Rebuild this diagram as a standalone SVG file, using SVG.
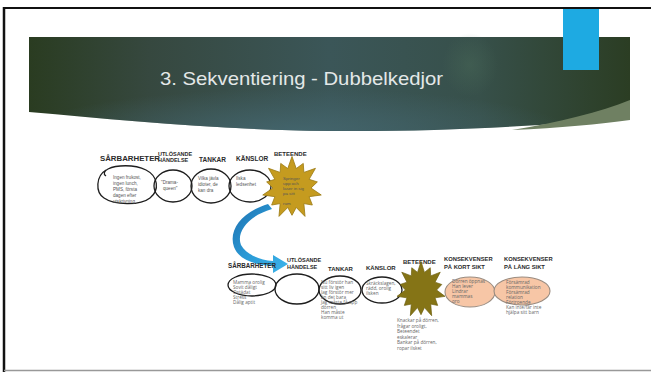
<svg xmlns="http://www.w3.org/2000/svg" xmlns:xlink="http://www.w3.org/1999/xlink" width="651" height="372" viewBox="0 0 651 372">
<style>
.h{font-family:"Liberation Sans",Arial,sans-serif;font-weight:bold;fill:#2a2a2a}
.t{font-family:"Open Sans","Liberation Sans",Arial,sans-serif;fill:#666}
.tt{font-family:"Liberation Sans",Arial,sans-serif;fill:#555}
.ell{fill:none;stroke:#1e1e1e;stroke-width:1.3}
.peach{fill:#f7c6a6;stroke:#9a8c80;stroke-width:1.1}
</style>
<defs>
<linearGradient id="band" x1="0" y1="0" x2="1" y2="0">
<stop offset="0" stop-color="#2a3c21"/>
<stop offset="0.2" stop-color="#36483f"/>
<stop offset="0.5" stop-color="#3b5658"/>
<stop offset="0.75" stop-color="#37504a"/>
<stop offset="1" stop-color="#2b3d23"/>
</linearGradient>
<radialGradient id="glow" cx="0.45" cy="1" r="0.45">
<stop offset="0" stop-color="#44666e" stop-opacity="0.9"/>
<stop offset="1" stop-color="#44666e" stop-opacity="0"/>
</radialGradient>
<radialGradient id="spot" cx="0.5" cy="0.5" r="0.5">
<stop offset="0" stop-color="#4a6a58" stop-opacity="0.45"/>
<stop offset="1" stop-color="#4a6a58" stop-opacity="0"/>
</radialGradient>
<linearGradient id="arr" x1="0" y1="0" x2="1" y2="1">
<stop offset="0" stop-color="#1e6fae"/>
<stop offset="0.5" stop-color="#2a9ad6"/>
<stop offset="1" stop-color="#3db4ea"/>
</linearGradient>
<path id="star" d="M0,-30 L4.23,-18.52 L11.28,-23.43 L11.85,-14.85 L23.45,-18.71 L17.12,-8.24 L25.35,-5.79 L19,0 L29.25,6.68 L17.12,8.24 L20.33,16.21 L11.85,14.85 L13.02,27.03 L4.23,18.52 L0,26 L-4.23,18.52 L-13.02,27.03 L-11.85,14.85 L-20.33,16.21 L-17.12,8.24 L-29.25,6.68 L-19,0 L-25.35,-5.79 L-17.12,-8.24 L-23.45,-18.71 L-11.85,-14.85 L-11.28,-23.43 L-4.23,-18.52 Z"/>
</defs>

<rect width="651" height="372" fill="#fff"/>

<g id="frame">
<line x1="4" y1="8" x2="651" y2="8" stroke="#111" stroke-width="2"/>
<line x1="4" y1="7" x2="4" y2="372" stroke="#111" stroke-width="2.5"/>
<line x1="4" y1="370.5" x2="651" y2="370.5" stroke="#999" stroke-width="1.5"/>
</g>

<g id="header">
<path d="M29,37 H630 V118 C 540,126 440,132 330,131 C 220,130 120,120 29,112 Z" fill="url(#band)"/>
<path d="M29,37 H630 V118 C 540,126 440,132 330,131 C 220,130 120,120 29,112 Z" fill="url(#glow)"/>
<ellipse cx="470" cy="65" rx="28" ry="32" fill="url(#spot)"/>
<path d="M630,100 C 600,112 560,122 512,130 C 560,128 600,124 630,120 Z" fill="#6f8062"/>
<rect x="563" y="9" width="36" height="61" fill="#1eaae2"/>
<text x="160" y="85" font-family="'Liberation Sans',Arial,sans-serif" font-size="19" fill="#e4e8e8" textLength="283" lengthAdjust="spacingAndGlyphs">3. Sekventiering - Dubbelkedjor</text>
</g>

<g id="connectors">
<path d="M268,204 C 242,212 228,230 234,247 C 239,260 255,265 273,266 L 273,273 L 288,264 L 273,255 L 273,261 C 259,260 246,254 241,245 C 236,232 248,216 272,209 Z" fill="url(#arr)"/>
</g>

<g id="top-chain">
<g id="t-sarbarheter">
<text class="h" x="100" y="161" font-size="7" textLength="60" lengthAdjust="spacingAndGlyphs">SÅRBARHETER</text>
<path class="ell" d="M106,170 C 96,176 95,192 104,198 C 114,205 140,206 150,198 C 160,190 158,176 146,170 C 134,164 116,165 108,169 C 104,171 103,174 106,176"/>
<text class="tt" font-size="4.6"><tspan x="113" y="179">Ingen frukost,</tspan><tspan x="113" y="185">ingen lunch,</tspan><tspan x="113" y="191">PMS, första</tspan><tspan x="113" y="197">dagen efter</tspan><tspan x="113" y="203">utskrivning</tspan></text>
</g>
<g id="t-utlosande">
<text class="h" x="158" y="155.5" font-size="5.5">UTLÖSANDE</text>
<text class="h" x="158" y="162" font-size="5.5">HÄNDELSE</text>
<ellipse class="ell" cx="173" cy="186" rx="19" ry="16"/>
<text class="tt" font-size="4.6"><tspan x="161" y="184">"Drama-</tspan><tspan x="163" y="190">queen"</tspan></text>
</g>
<g id="t-tankar">
<text class="h" x="199" y="162" font-size="6.5">TANKAR</text>
<ellipse class="ell" cx="211" cy="186" rx="20" ry="17"/>
<text class="tt" font-size="4.6"><tspan x="198" y="180">Vilka jävla</tspan><tspan x="198" y="186">idioter, de</tspan><tspan x="198" y="192">kan dra</tspan></text>
</g>
<g id="t-kanslor">
<text class="h" x="236" y="161" font-size="6.5">KÄNSLOR</text>
<ellipse class="ell" cx="250" cy="186" rx="21" ry="16"/>
<text class="tt" font-size="4.6"><tspan x="236" y="180">Ilska</tspan><tspan x="236" y="186">ledsenhet</tspan></text>
</g>
<g id="t-beteende">
<text class="h" x="274" y="156" font-size="6">BETEENDE</text>
<use xlink:href="#star" href="#star" transform="translate(292,188) scale(1,1.05)" fill="#c59b1f" stroke="#9c7a12" stroke-width="0.8"/>
<text class="tt" font-size="4.4" fill="#4a3d10"><tspan x="283" y="180">Springer</tspan><tspan x="283" y="185">upp och</tspan><tspan x="283" y="190">låser in sig</tspan><tspan x="283" y="195">på sitt</tspan><tspan x="283" y="205">rum</tspan></text>
</g>
</g>

<g id="bottom-chain">
<g id="b-sarbarheter">
<text class="h" x="228" y="268" font-size="6.5" textLength="48" lengthAdjust="spacingAndGlyphs">SÅRBARHETER</text>
<ellipse class="ell" cx="252" cy="285" rx="24" ry="11"/>
<text class="t" font-size="4.7"><tspan x="233" y="284">Mamma orolig</tspan><tspan x="233" y="289">Sovit dåligt</tspan><tspan x="233" y="294">Ostädat</tspan><tspan x="233" y="299">Stress</tspan><tspan x="233" y="304">Dålig aptit</tspan></text>
</g>
<g id="b-utlosande">
<text class="h" x="287" y="262" font-size="5.5">UTLÖSANDE</text>
<text class="h" x="287" y="268.5" font-size="5.5">HÄNDELSE</text>
<ellipse class="ell" cx="297" cy="289" rx="22" ry="15"/>
</g>
<g id="b-tankar">
<text class="h" x="328" y="271" font-size="6">TANKAR</text>
<ellipse class="ell" cx="340" cy="290" rx="21" ry="14"/>
<text class="t" font-size="4.7"><tspan x="321" y="284">Nu förstör han</tspan><tspan x="321" y="289">sitt liv igen</tspan><tspan x="321" y="294">Jag förstör mer</tspan><tspan x="321" y="299">än det bara</tspan><tspan x="321" y="304">Jag måste få upp</tspan><tspan x="321" y="309">dörren</tspan><tspan x="321" y="314">Han måste</tspan><tspan x="321" y="319">komma ut</tspan></text>
</g>
<g id="b-kanslor">
<text class="h" x="366" y="270" font-size="6">KÄNSLOR</text>
<ellipse class="ell" cx="382" cy="290" rx="20" ry="13"/>
<text class="t" font-size="4.7"><tspan x="366" y="285">Skräckslagen,</tspan><tspan x="366" y="290">rädd, orolig</tspan><tspan x="366" y="295">ilsken</tspan></text>
</g>
<g id="b-beteende">
<text class="h" x="403" y="264" font-size="6">BETEENDE</text>
<use xlink:href="#star" href="#star" transform="translate(421,290) scale(0.82,0.95)" fill="#857416" stroke="#6e6010" stroke-width="0.8"/>
<text class="t" font-size="4.7"><tspan x="397" y="322">Knackar på dörren,</tspan><tspan x="397" y="327.5">frågar oroligt,</tspan><tspan x="397" y="333">Beteendet</tspan><tspan x="397" y="338.5">eskalerar</tspan><tspan x="397" y="344">Bankar på dörren,</tspan><tspan x="397" y="349.5">ropar ilsket</tspan></text>
</g>
<g id="b-kort">
<text class="h" x="444" y="261" font-size="5.8">KONSEKVENSER</text>
<text class="h" x="444" y="268.5" font-size="5.8">PÅ KORT SIKT</text>
<ellipse class="peach" cx="470" cy="292" rx="25" ry="15"/>
<text class="t" font-size="4.7"><tspan x="452" y="283">Dörren öppnas</tspan><tspan x="452" y="288">Han lever</tspan><tspan x="452" y="293">Lindrar</tspan><tspan x="452" y="298">mammas</tspan><tspan x="452" y="303">oro</tspan></text>
</g>
<g id="b-lang">
<text class="h" x="504" y="261" font-size="5.8">KONSEKVENSER</text>
<text class="h" x="504" y="268.5" font-size="5.8">PÅ LÅNG SIKT</text>
<ellipse class="peach" cx="522" cy="291" rx="28" ry="14"/>
<text class="t" font-size="4.7"><tspan x="506" y="284">Försämrad</tspan><tspan x="506" y="289">kommunikation</tspan><tspan x="506" y="294">Försämrad</tspan><tspan x="506" y="299">relation</tspan><tspan x="506" y="304">Förtroende</tspan><tspan x="506" y="309">Kan inte/får inte</tspan><tspan x="506" y="314">hjälpa sitt barn</tspan></text>
</g>
</g>
</svg>
